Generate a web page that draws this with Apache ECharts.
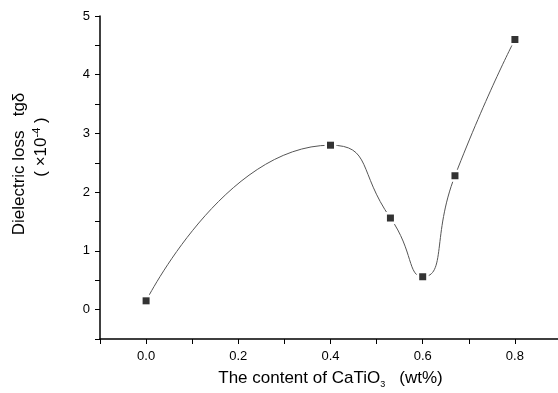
<!DOCTYPE html>
<html>
<head>
<meta charset="utf-8">
<script src="https://cdn.jsdelivr.net/npm/echarts@6/dist/echarts.min.js"></script>
<style>
  html, body { margin: 0; padding: 0; background: #fff; }
  #main { width: 558px; height: 393px; }
</style>
</head>
<body>
<div id="main"></div>
<script>
// CaTiO3 content (wt%) vs dielectric loss tg(delta) x 10^-4
let contents = [0.0, 0.4, 0.53, 0.6, 0.67, 0.8];
let loss = [0.15, 2.80, 1.56, 0.56, 2.28, 4.60];

let chartDom = document.getElementById('main');
let myChart = echarts.init(chartDom);
let FONT = 'Liberation Sans, Arial, sans-serif';

let points = contents.map(function (c, i) {
    return [c, loss[i]];
});

let option = {
    animation: false,
    grid: {
        left: 100,
        top: 16,
        bottom: 54,
        right: -3,
        outerBoundsMode: 'none'
    },
    xAxis: {
        type: 'value',
        min: -0.1,
        max: 0.9,
        interval: 0.1,
        name: 'The content of CaTiO{sub|3}   (wt%)',
        nameLocation: 'middle',
        nameGap: 29,
        nameTextStyle: {
            fontFamily: FONT,
            fontSize: 17,
            color: '#000',
            rich: {
                sub: { fontFamily: FONT, fontSize: 9, color: '#000', padding: [12, 0, 0, 0] }
            }
        },
        splitLine: { show: false },
        axisLine: { onZero: false, lineStyle: { color: '#000', width: 1.5 } },
        axisTick: { length: 5, lineStyle: { color: '#000', width: 1 } },
        axisLabel: {
            margin: 11,
            fontFamily: FONT,
            fontSize: 13,
            color: '#000',
            formatter: function (v) {
                let k = Math.round(v * 10);
                if (k >= 0 && k <= 8 && k % 2 === 0) return v.toFixed(1);
                return '';
            }
        }
    },
    yAxis: {
        type: 'value',
        min: -0.5,
        max: 5,
        interval: 0.5,
        splitLine: { show: false },
        axisLine: { show: true, onZero: false, lineStyle: { color: '#000', width: 1.5 } },
        axisTick: { show: true, length: 5, lineStyle: { color: '#000', width: 1 } },
        axisLabel: {
            margin: 10,
            fontFamily: FONT,
            fontSize: 13,
            color: '#000',
            formatter: function (v) {
                let k = Math.round(v * 2);
                if (k >= 0 && k % 2 === 0) return String(k / 2);
                return '';
            }
        }
    },
    graphic: [
        {
            type: 'text',
            x: 19,
            y: 164,
            rotation: Math.PI / 2,
            style: {
                text: 'Dielectric loss   tgδ',
                fontFamily: FONT,
                fontSize: 17,
                fill: '#000',
                align: 'center',
                verticalAlign: 'middle'
            }
        },
        {
            type: 'text',
            x: 41,
            y: 147,
            rotation: Math.PI / 2,
            style: {
                text: '( ×10{sup|-4} )',
                fontFamily: FONT,
                fontSize: 17,
                fill: '#000',
                align: 'center',
                verticalAlign: 'middle',
                rich: {
                    sup: { fontFamily: FONT, fontSize: 11, fill: '#000', padding: [0, 0, 9, 0] }
                }
            }
        }
    ],
    series: [
        {
            // curve, with white squares to leave a gap round each marker
            type: 'line',
            data: points,
            smooth: 0.6,
            symbol: 'rect',
            symbolSize: 12,
            itemStyle: { color: '#fff' },
            lineStyle: { color: '#555', width: 1 },
            z: 2
        },
        {
            type: 'scatter',
            data: points,
            symbol: 'rect',
            symbolSize: 7,
            itemStyle: { color: '#000' },
            z: 3
        }
    ]
};

myChart.setOption(option);
</script>
</body>
</html>
